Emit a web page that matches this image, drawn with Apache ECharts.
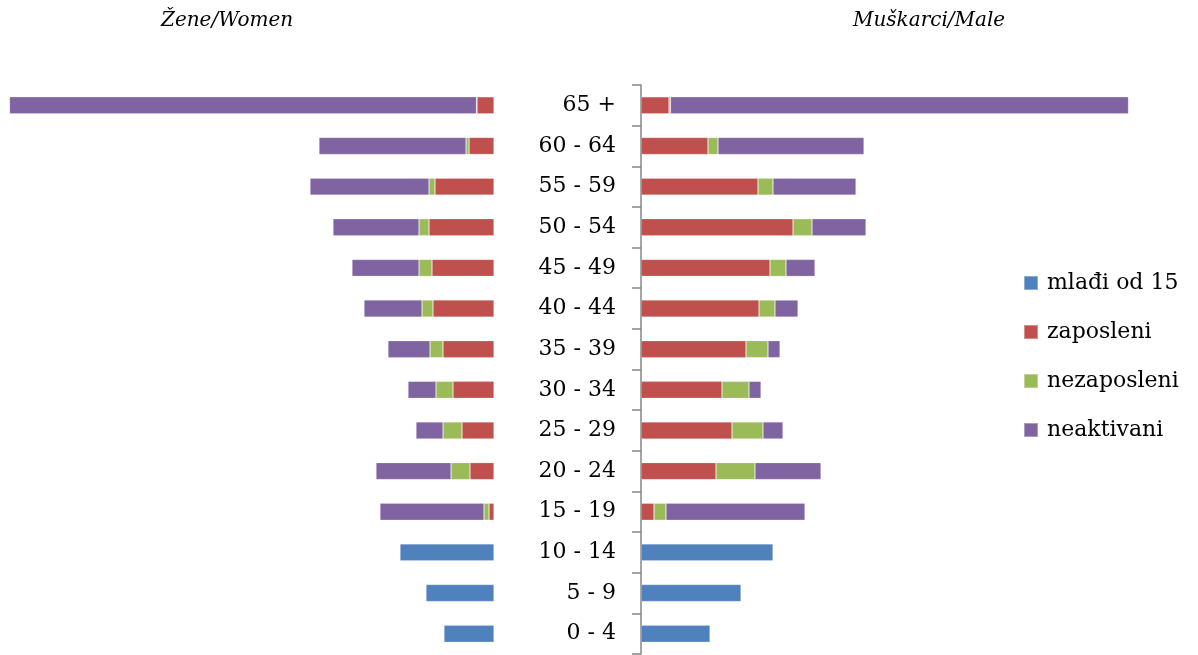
<!DOCTYPE html>
<html>
<head>
<meta charset="utf-8">
<script src="https://cdn.jsdelivr.net/npm/echarts@6/dist/echarts.min.js"></script>
<style>
html,body{margin:0;padding:0;background:#fff;}
#main{width:1198px;height:655px;}
</style>
</head>
<body>
<div id="main"></div>
<script>
// Categories from bottom to top
const categories = ['0 - 4','5 - 9','10 - 14','15 - 19','20 - 24','25 - 29','30 - 34','35 - 39','40 - 44','45 - 49','50 - 54','55 - 59','60 - 64','65 +'];

// Women (left side)
const womenMladji = [5.0, 6.8, 9.4, null, null, null, null, null, null, null, null, null, null, null];
const womenZaposleni = [null, null, null, 0.5, 2.4, 3.2, 4.1, 5.1, 6.1, 6.2, 6.5, 5.9, 2.5, 1.7];
const womenNezaposleni = [null, null, null, 0.5, 1.9, 1.9, 1.7, 1.3, 1.1, 1.3, 1.0, 0.6, 0.3, 0.05];
const womenNeaktivni = [null, null, null, 10.4, 7.5, 2.7, 2.8, 4.2, 5.8, 6.7, 8.6, 11.9, 14.7, 46.7];

// Men (right side)
const menMladji = [6.9, 10.0, 13.2, null, null, null, null, null, null, null, null, null, null, null];
const menZaposleni = [null, null, null, 1.3, 7.5, 9.1, 8.1, 10.5, 11.8, 12.9, 15.2, 11.7, 6.7, 2.8];
const menNezaposleni = [null, null, null, 1.2, 3.9, 3.1, 2.7, 2.2, 1.6, 1.6, 1.9, 1.5, 1.0, 0.15];
const menNeaktivni = [null, null, null, 13.9, 6.6, 2.0, 1.2, 1.2, 2.3, 2.9, 5.4, 8.3, 14.6, 45.8];

const seriesNames = ['mlađi od 15', 'zaposleni', 'nezaposleni', 'neaktivani'];
const colors = ['#4F81BD', '#C0504D', '#9BBB59', '#8064A2'];

const FONT = 'DejaVu Serif';

function mk(name, data, idx, stack) {
  return {
    name: name, type: 'bar', stack: stack,
    xAxisIndex: idx, yAxisIndex: idx,
    data: data, barWidth: 17,
    itemStyle: { color: colors[seriesNames.indexOf(name)], borderColor: 'rgba(255,255,255,0.35)', borderWidth: 0.6 },
    emphasis: { disabled: true }
  };
}

const chart = echarts.init(document.getElementById('main'), null, { renderer: 'canvas' });
chart.setOption({
  animation: false,
  color: colors,
  title: [
    { text: 'Žene/Women', left: 161, top: 11, padding: 0, textStyle: { fontFamily: FONT, fontStyle: 'italic', fontWeight: 'normal', fontSize: 20, color: '#000' } },
    { text: 'Muškarci/Male', left: 853, top: 11, padding: 0, textStyle: { fontFamily: FONT, fontStyle: 'italic', fontWeight: 'normal', fontSize: 20, color: '#000' } }
  ],
  legend: {
    data: seriesNames,
    orient: 'vertical',
    left: 1023, top: 271,
    padding: 0,
    itemWidth: 14, itemHeight: 14,
    itemGap: 25,
    icon: 'rect',
    textStyle: { fontFamily: FONT, fontSize: 22, color: '#000', lineHeight: 24, padding: [0, 0, 0, 4] },
    selectedMode: false
  },
  grid: [
    { left: 4, width: 490, top: 85, height: 569 },
    { left: 641, width: 500, top: 85, height: 569 }
  ],
  xAxis: [
    { gridIndex: 0, type: 'value', min: 0, max: 49, inverse: true, show: false },
    { gridIndex: 1, type: 'value', min: 0, max: 50, show: false }
  ],
  yAxis: [
    { gridIndex: 0, type: 'category', data: categories, show: false },
    { gridIndex: 1, type: 'category', data: categories,
      axisLine: { show: true, lineStyle: { color: '#868686', width: 1.5 } },
      axisTick: { show: true, length: 9, lineStyle: { color: '#868686', width: 1.5 } },
      axisLabel: { fontFamily: FONT, fontSize: 22, color: '#000', margin: 25 }
    }
  ],
  series: [
    mk('mlađi od 15', womenMladji, 0, 'w'),
    mk('zaposleni', womenZaposleni, 0, 'w'),
    mk('nezaposleni', womenNezaposleni, 0, 'w'),
    mk('neaktivani', womenNeaktivni, 0, 'w'),
    mk('mlađi od 15', menMladji, 1, 'm'),
    mk('zaposleni', menZaposleni, 1, 'm'),
    mk('nezaposleni', menNezaposleni, 1, 'm'),
    mk('neaktivani', menNeaktivni, 1, 'm')
  ]
});
</script>
</body>
</html>
